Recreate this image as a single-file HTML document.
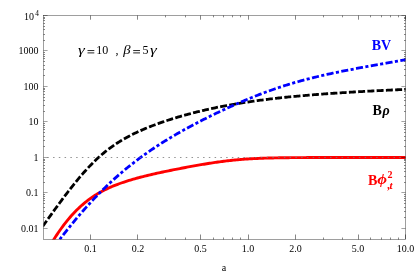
<!DOCTYPE html>
<html><head><meta charset="utf-8"><title>plot</title>
<style>html,body{margin:0;padding:0;background:#fff;}body{width:415px;height:272px;overflow:hidden;font-family:"Liberation Serif",serif;}svg{display:block;}text{font-family:"Liberation Serif",serif;}</style></head><body><div style="width:415px;height:272px;will-change:transform;background:#fff;">
<svg width="415" height="272" viewBox="0 0 415 272">
<rect width="415" height="272" fill="#fff"/>
<defs><clipPath id="c"><rect x="43.5" y="15.5" width="362.0" height="224.0"/></clipPath></defs>
<g clip-path="url(#c)" fill="none">
<path d="M51.31,243.49 L52.72,241.20 L54.13,238.95 L55.54,236.76 L56.96,234.62 L58.37,232.53 L59.78,230.50 L61.20,228.51 L62.61,226.58 L64.02,224.70 L65.44,222.87 L66.85,221.09 L68.26,219.37 L69.68,217.69 L71.09,216.07 L72.50,214.49 L73.92,212.97 L75.33,211.49 L76.74,210.06 L78.15,208.68 L79.57,207.34 L80.98,206.05 L82.39,204.80 L83.81,203.59 L85.22,202.43 L86.63,201.30 L88.05,200.22 L89.46,199.17 L90.87,198.16 L92.29,197.18 L93.70,196.24 L95.11,195.33 L96.53,194.45 L97.94,193.60 L99.35,192.78 L100.76,191.99 L102.18,191.23 L103.59,190.49 L105.00,189.77 L106.42,189.08 L107.83,188.42 L109.24,187.77 L110.66,187.14 L112.07,186.53 L113.48,185.95 L114.90,185.37 L116.31,184.82 L117.72,184.28 L119.14,183.76 L120.55,183.25 L121.96,182.75 L123.37,182.27 L124.79,181.80 L126.20,181.34 L127.61,180.89 L129.03,180.46 L130.44,180.03 L131.85,179.61 L133.27,179.20 L134.68,178.80 L136.09,178.41 L137.51,178.02 L138.92,177.64 L140.33,177.27 L141.75,176.90 L143.16,176.54 L144.57,176.19 L145.98,175.84 L147.40,175.50 L148.81,175.16 L150.22,174.83 L151.64,174.49 L153.05,174.17 L154.46,173.85 L155.88,173.53 L157.29,173.21 L158.70,172.90 L160.12,172.59 L161.53,172.29 L162.94,171.99 L164.36,171.69 L165.77,171.39 L167.18,171.09 L168.59,170.80 L170.01,170.51 L171.42,170.23 L172.83,169.94 L174.25,169.66 L175.66,169.38 L177.07,169.10 L178.49,168.82 L179.90,168.55 L181.31,168.27 L182.73,168.00 L184.14,167.73 L185.55,167.47 L186.97,167.20 L188.38,166.94 L189.79,166.68 L191.20,166.42 L192.62,166.17 L194.03,165.91 L195.44,165.66 L196.86,165.41 L198.27,165.17 L199.68,164.92 L201.10,164.68 L202.51,164.44 L203.92,164.21 L205.34,163.98 L206.75,163.75 L208.16,163.52 L209.58,163.30 L210.99,163.08 L212.40,162.86 L213.81,162.65 L215.23,162.44 L216.64,162.24 L218.05,162.04 L219.47,161.84 L220.88,161.65 L222.29,161.46 L223.71,161.28 L225.12,161.11 L226.53,160.93 L227.95,160.77 L229.36,160.60 L230.77,160.45 L232.19,160.30 L233.60,160.15 L235.01,160.01 L236.42,159.87 L237.84,159.74 L239.25,159.61 L240.66,159.49 L242.08,159.38 L243.49,159.27 L244.90,159.16 L246.32,159.06 L247.73,158.97 L249.14,158.88 L250.56,158.79 L251.97,158.71 L253.38,158.63 L254.80,158.56 L256.21,158.49 L257.62,158.43 L259.03,158.37 L260.45,158.31 L261.86,158.25 L263.27,158.20 L264.69,158.15 L266.10,158.11 L267.51,158.07 L268.93,158.03 L270.34,157.99 L271.75,157.96 L273.17,157.93 L274.58,157.90 L275.99,157.87 L277.41,157.84 L278.82,157.82 L280.23,157.79 L281.64,157.77 L283.06,157.75 L284.47,157.74 L285.88,157.72 L287.30,157.70 L288.71,157.69 L290.12,157.67 L291.54,157.66 L292.95,157.65 L294.36,157.64 L295.78,157.63 L297.19,157.62 L298.60,157.61 L300.02,157.60 L301.43,157.59 L302.84,157.59 L304.25,157.58 L305.67,157.58 L307.08,157.57 L308.49,157.56 L309.91,157.56 L311.32,157.56 L312.73,157.55 L314.15,157.55 L315.56,157.54 L316.97,157.54 L318.39,157.54 L319.80,157.54 L321.21,157.53 L322.63,157.53 L324.04,157.53 L325.45,157.53 L326.86,157.52 L328.28,157.52 L329.69,157.52 L331.10,157.52 L332.52,157.52 L333.93,157.52 L335.34,157.52 L336.76,157.51 L338.17,157.51 L339.58,157.51 L341.00,157.51 L342.41,157.51 L343.82,157.51 L345.24,157.51 L346.65,157.51 L348.06,157.51 L349.47,157.51 L350.89,157.51 L352.30,157.51 L353.71,157.51 L355.13,157.51 L356.54,157.50 L357.95,157.50 L359.37,157.50 L360.78,157.50 L362.19,157.50 L363.61,157.50 L365.02,157.50 L366.43,157.50 L367.85,157.50 L369.26,157.50 L370.67,157.50 L372.08,157.50 L373.50,157.50 L374.91,157.50 L376.32,157.50 L377.74,157.50 L379.15,157.50 L380.56,157.50 L381.98,157.50 L383.39,157.50 L384.80,157.50 L386.22,157.50 L387.63,157.50 L389.04,157.50 L390.46,157.50 L391.87,157.50 L393.28,157.50 L394.69,157.50 L396.11,157.50 L397.52,157.50 L398.93,157.50 L400.35,157.50 L401.76,157.50 L403.17,157.50 L404.59,157.50 L406.00,157.50" stroke="#ff0000" stroke-width="2.9"/>
<path d="M40.00,230.33 L41.41,228.32 L42.83,226.30 L44.24,224.30 L45.65,222.30 L47.07,220.30 L48.48,218.31 L49.89,216.33 L51.31,214.36 L52.72,212.40 L54.13,210.44 L55.54,208.49 L56.96,206.56 L58.37,204.63 L59.78,202.71 L61.20,200.81 L62.61,198.92 L64.02,197.04 L65.44,195.17 L66.85,193.32 L68.26,191.48 L69.68,189.66 L71.09,187.86 L72.50,186.07 L73.92,184.31 L75.33,182.56 L76.74,180.83 L78.15,179.13 L79.57,177.45 L80.98,175.79 L82.39,174.16 L83.81,172.55 L85.22,170.97 L86.63,169.41 L88.05,167.88 L89.46,166.38 L90.87,164.91 L92.29,163.47 L93.70,162.06 L95.11,160.69 L96.53,159.34 L97.94,158.02 L99.35,156.73 L100.76,155.48 L102.18,154.25 L103.59,153.06 L105.00,151.90 L106.42,150.77 L107.83,149.66 L109.24,148.59 L110.66,147.54 L112.07,146.53 L113.48,145.53 L114.90,144.57 L116.31,143.63 L117.72,142.72 L119.14,141.82 L120.55,140.96 L121.96,140.11 L123.37,139.28 L124.79,138.48 L126.20,137.69 L127.61,136.93 L129.03,136.18 L130.44,135.44 L131.85,134.73 L133.27,134.02 L134.68,133.34 L136.09,132.67 L137.51,132.01 L138.92,131.36 L140.33,130.73 L141.75,130.10 L143.16,129.49 L144.57,128.89 L145.98,128.30 L147.40,127.73 L148.81,127.16 L150.22,126.60 L151.64,126.04 L153.05,125.50 L154.46,124.97 L155.88,124.44 L157.29,123.92 L158.70,123.41 L160.12,122.91 L161.53,122.41 L162.94,121.92 L164.36,121.44 L165.77,120.96 L167.18,120.50 L168.59,120.03 L170.01,119.58 L171.42,119.13 L172.83,118.68 L174.25,118.24 L175.66,117.81 L177.07,117.39 L178.49,116.96 L179.90,116.55 L181.31,116.14 L182.73,115.73 L184.14,115.34 L185.55,114.94 L186.97,114.55 L188.38,114.17 L189.79,113.79 L191.20,113.42 L192.62,113.05 L194.03,112.69 L195.44,112.33 L196.86,111.97 L198.27,111.62 L199.68,111.28 L201.10,110.94 L202.51,110.60 L203.92,110.27 L205.34,109.95 L206.75,109.62 L208.16,109.31 L209.58,108.99 L210.99,108.69 L212.40,108.38 L213.81,108.08 L215.23,107.78 L216.64,107.49 L218.05,107.20 L219.47,106.92 L220.88,106.64 L222.29,106.36 L223.71,106.09 L225.12,105.82 L226.53,105.56 L227.95,105.30 L229.36,105.04 L230.77,104.79 L232.19,104.54 L233.60,104.29 L235.01,104.05 L236.42,103.81 L237.84,103.57 L239.25,103.34 L240.66,103.11 L242.08,102.88 L243.49,102.66 L244.90,102.44 L246.32,102.22 L247.73,102.01 L249.14,101.80 L250.56,101.59 L251.97,101.39 L253.38,101.19 L254.80,100.99 L256.21,100.79 L257.62,100.60 L259.03,100.41 L260.45,100.22 L261.86,100.04 L263.27,99.85 L264.69,99.67 L266.10,99.50 L267.51,99.32 L268.93,99.15 L270.34,98.98 L271.75,98.81 L273.17,98.65 L274.58,98.49 L275.99,98.32 L277.41,98.17 L278.82,98.01 L280.23,97.86 L281.64,97.70 L283.06,97.55 L284.47,97.41 L285.88,97.26 L287.30,97.12 L288.71,96.98 L290.12,96.84 L291.54,96.70 L292.95,96.56 L294.36,96.43 L295.78,96.29 L297.19,96.16 L298.60,96.03 L300.02,95.91 L301.43,95.78 L302.84,95.66 L304.25,95.53 L305.67,95.41 L307.08,95.29 L308.49,95.17 L309.91,95.06 L311.32,94.94 L312.73,94.83 L314.15,94.71 L315.56,94.60 L316.97,94.49 L318.39,94.38 L319.80,94.28 L321.21,94.17 L322.63,94.07 L324.04,93.96 L325.45,93.86 L326.86,93.76 L328.28,93.66 L329.69,93.56 L331.10,93.46 L332.52,93.36 L333.93,93.27 L335.34,93.17 L336.76,93.08 L338.17,92.98 L339.58,92.89 L341.00,92.80 L342.41,92.71 L343.82,92.62 L345.24,92.53 L346.65,92.45 L348.06,92.36 L349.47,92.27 L350.89,92.19 L352.30,92.10 L353.71,92.02 L355.13,91.94 L356.54,91.85 L357.95,91.77 L359.37,91.69 L360.78,91.61 L362.19,91.53 L363.61,91.45 L365.02,91.38 L366.43,91.30 L367.85,91.22 L369.26,91.15 L370.67,91.07 L372.08,91.00 L373.50,90.92 L374.91,90.85 L376.32,90.77 L377.74,90.70 L379.15,90.63 L380.56,90.56 L381.98,90.49 L383.39,90.42 L384.80,90.35 L386.22,90.28 L387.63,90.21 L389.04,90.14 L390.46,90.07 L391.87,90.00 L393.28,89.93 L394.69,89.87 L396.11,89.80 L397.52,89.73 L398.93,89.67 L400.35,89.60 L401.76,89.54 L403.17,89.47 L404.59,89.41 L406.00,89.34" stroke="#000" stroke-width="2.8" stroke-dasharray="6.96 2.3" stroke-dashoffset="4.49"/>
<path d="M55.54,244.95 L56.96,243.07 L58.37,241.20 L59.78,239.35 L61.20,237.51 L62.61,235.69 L64.02,233.87 L65.44,232.07 L66.85,230.29 L68.26,228.52 L69.68,226.76 L71.09,225.02 L72.50,223.29 L73.92,221.58 L75.33,219.88 L76.74,218.19 L78.15,216.52 L79.57,214.87 L80.98,213.22 L82.39,211.60 L83.81,209.99 L85.22,208.39 L86.63,206.81 L88.05,205.25 L89.46,203.70 L90.87,202.17 L92.29,200.65 L93.70,199.14 L95.11,197.65 L96.53,196.18 L97.94,194.72 L99.35,193.28 L100.76,191.85 L102.18,190.44 L103.59,189.04 L105.00,187.66 L106.42,186.30 L107.83,184.94 L109.24,183.61 L110.66,182.28 L112.07,180.98 L113.48,179.68 L114.90,178.40 L116.31,177.14 L117.72,175.89 L119.14,174.65 L120.55,173.43 L121.96,172.22 L123.37,171.02 L124.79,169.84 L126.20,168.67 L127.61,167.51 L129.03,166.37 L130.44,165.24 L131.85,164.12 L133.27,163.02 L134.68,161.92 L136.09,160.84 L137.51,159.77 L138.92,158.71 L140.33,157.67 L141.75,156.63 L143.16,155.61 L144.57,154.59 L145.98,153.59 L147.40,152.59 L148.81,151.61 L150.22,150.64 L151.64,149.68 L153.05,148.72 L154.46,147.78 L155.88,146.84 L157.29,145.92 L158.70,145.00 L160.12,144.09 L161.53,143.19 L162.94,142.30 L164.36,141.42 L165.77,140.54 L167.18,139.68 L168.59,138.82 L170.01,137.96 L171.42,137.12 L172.83,136.28 L174.25,135.45 L175.66,134.62 L177.07,133.81 L178.49,132.99 L179.90,132.19 L181.31,131.39 L182.73,130.60 L184.14,129.81 L185.55,129.03 L186.97,128.25 L188.38,127.48 L189.79,126.72 L191.20,125.96 L192.62,125.20 L194.03,124.45 L195.44,123.71 L196.86,122.97 L198.27,122.24 L199.68,121.51 L201.10,120.78 L202.51,120.06 L203.92,119.35 L205.34,118.63 L206.75,117.93 L208.16,117.22 L209.58,116.52 L210.99,115.83 L212.40,115.14 L213.81,114.45 L215.23,113.77 L216.64,113.09 L218.05,112.42 L219.47,111.75 L220.88,111.08 L222.29,110.42 L223.71,109.76 L225.12,109.11 L226.53,108.46 L227.95,107.81 L229.36,107.17 L230.77,106.53 L232.19,105.89 L233.60,105.26 L235.01,104.64 L236.42,104.02 L237.84,103.40 L239.25,102.78 L240.66,102.17 L242.08,101.57 L243.49,100.97 L244.90,100.37 L246.32,99.78 L247.73,99.19 L249.14,98.61 L250.56,98.03 L251.97,97.46 L253.38,96.89 L254.80,96.32 L256.21,95.76 L257.62,95.21 L259.03,94.66 L260.45,94.12 L261.86,93.58 L263.27,93.04 L264.69,92.52 L266.10,91.99 L267.51,91.48 L268.93,90.96 L270.34,90.46 L271.75,89.96 L273.17,89.46 L274.58,88.97 L275.99,88.49 L277.41,88.01 L278.82,87.53 L280.23,87.07 L281.64,86.60 L283.06,86.15 L284.47,85.70 L285.88,85.25 L287.30,84.81 L288.71,84.38 L290.12,83.95 L291.54,83.53 L292.95,83.11 L294.36,82.70 L295.78,82.29 L297.19,81.89 L298.60,81.49 L300.02,81.10 L301.43,80.71 L302.84,80.33 L304.25,79.95 L305.67,79.58 L307.08,79.21 L308.49,78.85 L309.91,78.49 L311.32,78.13 L312.73,77.78 L314.15,77.43 L315.56,77.09 L316.97,76.75 L318.39,76.41 L319.80,76.08 L321.21,75.75 L322.63,75.42 L324.04,75.10 L325.45,74.78 L326.86,74.46 L328.28,74.15 L329.69,73.83 L331.10,73.53 L332.52,73.22 L333.93,72.92 L335.34,72.62 L336.76,72.33 L338.17,72.03 L339.58,71.75 L341.00,71.46 L342.41,71.18 L343.82,70.90 L345.24,70.62 L346.65,70.35 L348.06,70.08 L349.47,69.81 L350.89,69.54 L352.30,69.27 L353.71,69.01 L355.13,68.75 L356.54,68.49 L357.95,68.23 L359.37,67.97 L360.78,67.71 L362.19,67.46 L363.61,67.20 L365.02,66.95 L366.43,66.70 L367.85,66.45 L369.26,66.20 L370.67,65.95 L372.08,65.70 L373.50,65.45 L374.91,65.20 L376.32,64.95 L377.74,64.70 L379.15,64.46 L380.56,64.21 L381.98,63.96 L383.39,63.71 L384.80,63.46 L386.22,63.21 L387.63,62.97 L389.04,62.72 L390.46,62.47 L391.87,62.22 L393.28,61.96 L394.69,61.71 L396.11,61.46 L397.52,61.21 L398.93,60.95 L400.35,60.70 L401.76,60.44 L403.17,60.18 L404.59,59.92 L406.00,59.66" stroke="#0000ff" stroke-width="2.8" stroke-dasharray="7.1 2.4 3.1 2.4" stroke-dashoffset="2.53"/>
<line x1="43.5" y1="157.5" x2="405.5" y2="157.5" stroke="#777" stroke-width="0.8" stroke-dasharray="1.5 4.27" stroke-dashoffset="1.99"/>
</g>
<rect x="43.5" y="15.5" width="362.0" height="224.0" fill="none" stroke="#000" stroke-width="0.38"/>
<path d="M43.5,217.50h1.5M405.5,217.50h-1.5M43.5,211.50h1.5M405.5,211.50h-1.5M43.5,207.50h1.5M405.5,207.50h-1.5M43.5,203.50h1.5M405.5,203.50h-1.5M43.5,200.50h1.5M405.5,200.50h-1.5M43.5,198.50h1.5M405.5,198.50h-1.5M43.5,196.50h1.5M405.5,196.50h-1.5M43.5,194.50h1.5M405.5,194.50h-1.5M43.5,182.50h1.5M405.5,182.50h-1.5M43.5,176.50h1.5M405.5,176.50h-1.5M43.5,171.50h1.5M405.5,171.50h-1.5M43.5,168.50h1.5M405.5,168.50h-1.5M43.5,165.50h1.5M405.5,165.50h-1.5M43.5,162.50h1.5M405.5,162.50h-1.5M43.5,160.50h1.5M405.5,160.50h-1.5M43.5,159.50h1.5M405.5,159.50h-1.5M43.5,146.50h1.5M405.5,146.50h-1.5M43.5,140.50h1.5M405.5,140.50h-1.5M43.5,136.50h1.5M405.5,136.50h-1.5M43.5,132.50h1.5M405.5,132.50h-1.5M43.5,129.50h1.5M405.5,129.50h-1.5M43.5,127.50h1.5M405.5,127.50h-1.5M43.5,125.50h1.5M405.5,125.50h-1.5M43.5,123.50h1.5M405.5,123.50h-1.5M43.5,111.50h1.5M405.5,111.50h-1.5M43.5,105.50h1.5M405.5,105.50h-1.5M43.5,100.50h1.5M405.5,100.50h-1.5M43.5,97.50h1.5M405.5,97.50h-1.5M43.5,94.50h1.5M405.5,94.50h-1.5M43.5,91.50h1.5M405.5,91.50h-1.5M43.5,89.50h1.5M405.5,89.50h-1.5M43.5,88.50h1.5M405.5,88.50h-1.5M43.5,75.50h1.5M405.5,75.50h-1.5M43.5,69.50h1.5M405.5,69.50h-1.5M43.5,65.50h1.5M405.5,65.50h-1.5M43.5,61.50h1.5M405.5,61.50h-1.5M43.5,58.50h1.5M405.5,58.50h-1.5M43.5,56.50h1.5M405.5,56.50h-1.5M43.5,54.50h1.5M405.5,54.50h-1.5M43.5,52.50h1.5M405.5,52.50h-1.5M43.5,40.50h1.5M405.5,40.50h-1.5M43.5,34.50h1.5M405.5,34.50h-1.5M43.5,29.50h1.5M405.5,29.50h-1.5M43.5,26.50h1.5M405.5,26.50h-1.5M43.5,23.50h1.5M405.5,23.50h-1.5M43.5,20.50h1.5M405.5,20.50h-1.5M43.5,18.50h1.5M405.5,18.50h-1.5M43.5,17.50h1.5M405.5,17.50h-1.5M90.50,239.5v-5.0M90.50,15.5v4.2M137.50,239.5v-5.0M137.50,15.5v4.2M165.50,239.5v-2.0M165.50,15.5v1.8M185.50,239.5v-2.0M185.50,15.5v1.8M200.50,239.5v-5.0M200.50,15.5v4.2M213.50,239.5v-2.0M213.50,15.5v1.8M223.50,239.5v-2.0M223.50,15.5v1.8M232.50,239.5v-2.0M232.50,15.5v1.8M240.50,239.5v-2.0M240.50,15.5v1.8M248.50,239.5v-5.0M248.50,15.5v4.2M295.50,239.5v-5.0M295.50,15.5v4.2M323.50,239.5v-2.0M323.50,15.5v1.8M342.50,239.5v-2.0M342.50,15.5v1.8M358.50,239.5v-5.0M358.50,15.5v4.2M370.50,239.5v-2.0M370.50,15.5v1.8M381.50,239.5v-2.0M381.50,15.5v1.8M390.50,239.5v-2.0M390.50,15.5v1.8M398.50,239.5v-2.0M398.50,15.5v1.8M405.50,239.5v-5.0M405.50,15.5v4.2" stroke="#000" stroke-width="0.48" fill="none"/>
<path d="M43.5,228.50h4.1M405.5,228.50h-4.1M43.5,192.50h4.1M405.5,192.50h-4.1M43.5,157.50h4.1M405.5,157.50h-4.1M43.5,121.50h4.1M405.5,121.50h-4.1M43.5,86.50h4.1M405.5,86.50h-4.1M43.5,50.50h4.1M405.5,50.50h-4.1M43.5,15.50h4.1M405.5,15.50h-4.1" stroke="#000" stroke-width="0.36" fill="none"/>
<g font-size="10" fill="#000" text-anchor="end">
<text transform="translate(38.6,54.3) scale(1,1.06)">1000</text>
<text transform="translate(38.6,89.8) scale(1,1.06)">100</text>
<text transform="translate(38.6,125.3) scale(1,1.06)">10</text>
<text transform="translate(38.6,160.8) scale(1,1.06)">1</text>
<text transform="translate(38.6,196.3) scale(1,1.06)">0.1</text>
<text transform="translate(38.6,231.8) scale(1,1.06)">0.01</text>
<text transform="translate(34,19.9) scale(1,1.06)">10</text><text x="38.9" y="15.6" font-size="7.3">4</text>
</g>
<g font-size="10" fill="#000" text-anchor="middle">
<text transform="translate(90.5,252) scale(1,1.06)">0.1</text>
<text transform="translate(137.9,252) scale(1,1.06)">0.2</text>
<text transform="translate(200.6,252) scale(1,1.06)">0.5</text>
<text transform="translate(248.0,252) scale(1,1.06)">1.0</text>
<text transform="translate(295.4,252) scale(1,1.06)">2.0</text>
<text transform="translate(358.1,252) scale(1,1.06)">5.0</text>
<text transform="translate(405.5,252) scale(1,1.06)">10.0</text>
<text x="224" y="270.7">a</text>
</g>
<text transform="translate(78.0,54.4) scale(1.38,1.0)" font-size="12.5" fill="#000" font-style="italic">γ</text>
<path d="M87.5,50.55h6.8M87.5,52.9h6.8M133.2,50.55h6.8M133.2,52.9h6.8" stroke="#000" stroke-width="0.85" fill="none"/>
<text transform="translate(96.3,54.4) scale(1,1)" font-size="12" fill="#000" >10</text>
<text transform="translate(115.5,54.4) scale(1,1)" font-size="12" fill="#000" >,</text>
<text transform="translate(123.2,54.4) scale(1.22,1.0)" font-size="12" fill="#000" font-style="italic">β</text>
<text transform="translate(142.6,54.4) scale(1,1)" font-size="12" fill="#000" >5</text>
<text transform="translate(150.0,54.4) scale(1.38,1.0)" font-size="12.5" fill="#000" font-style="italic">γ</text>
<text transform="translate(371.7,49.8) scale(1,1)" font-size="14" fill="#0000ff" font-weight="bold">BV</text>
<text transform="translate(372.6,115.4) scale(1,1)" font-size="14" fill="#000" font-weight="bold">B</text>
<text transform="translate(382.4,115.4) scale(1,1)" font-size="14" fill="#000" font-weight="bold" font-style="italic">ρ</text>
<text transform="translate(368.0,185) scale(1,1)" font-size="14" fill="#ff0000" font-weight="bold">B</text>
<text transform="translate(377.3,184.4) scale(1.2,1.05)" font-size="14" fill="#ff0000" font-weight="bold" font-style="italic">ϕ</text>
<text transform="translate(387.5,178) scale(1,1)" font-size="10" fill="#ff0000" font-weight="bold">2</text>
<text transform="translate(387.0,188.6) scale(1,1)" font-size="11.5" fill="#ff0000" font-weight="bold">,</text>
<text transform="translate(389.4,189.2) scale(1,1)" font-size="11" fill="#ff0000" font-weight="bold" font-style="italic">t</text>
</svg>
</div></body></html>
